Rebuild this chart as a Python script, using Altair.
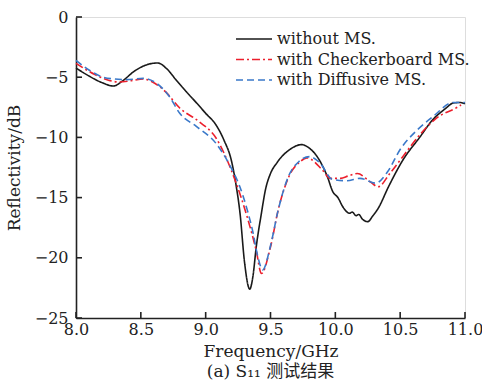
import altair as alt
import pandas as pd

series_names = ["without MS.", "with Checkerboard MS.", "with Diffusive MS."]

f_black = [8.0, 8.1, 8.2, 8.29, 8.36, 8.45, 8.55, 8.63, 8.7, 8.77, 8.85, 8.93, 9.0, 9.08, 9.14,
           9.2, 9.235, 9.265, 9.3, 9.34, 9.365, 9.39, 9.43, 9.46, 9.5, 9.55, 9.65, 9.74, 9.8,
           9.86, 9.94, 9.98, 10.02, 10.06, 10.11, 10.13, 10.16, 10.18, 10.21, 10.25, 10.29,
           10.33, 10.41, 10.52, 10.65, 10.75, 10.85, 10.91, 10.96, 11.0]
v_black = [-4.24, -4.9, -5.45, -5.73, -5.3, -4.5, -3.95, -3.82, -4.3, -5.2, -6.2, -7.14, -8.0,
           -8.97, -10.2, -12.0, -14.0, -16.3, -20.4, -22.6, -21.5, -19.1, -16.3, -14.4, -13.0,
           -12.1, -11.0, -10.6, -10.9, -11.6, -13.3, -14.5, -15.0, -15.8, -16.3, -16.2, -16.5,
           -16.4, -16.8, -17.0, -16.5, -15.9, -14.1, -11.9, -10.0, -8.55, -7.6, -7.14, -7.1, -7.2]

f_red = [8.0, 8.15, 8.25, 8.33, 8.42, 8.52, 8.59, 8.69, 8.8, 8.95, 9.08, 9.15, 9.225, 9.32,
         9.39, 9.43, 9.5, 9.56, 9.64, 9.73, 9.78, 9.9, 9.96, 10.04, 10.1, 10.17, 10.27, 10.33,
         10.42, 10.52, 10.65, 10.78, 10.94, 10.97]
v_red = [-3.85, -4.8, -5.25, -5.4, -5.3, -5.15, -5.4, -6.2, -7.56, -8.7, -10.05, -11.5, -13.5,
         -16.6, -19.4, -21.3, -19.1, -16.0, -13.3, -12.0, -11.7, -12.7, -13.4, -13.4, -13.2,
         -13.0, -13.7, -14.1, -13.0, -11.6, -9.8, -8.4, -7.5, -7.3]

f_blue = [8.0, 8.1, 8.21, 8.3, 8.39, 8.52, 8.62, 8.72, 8.8, 8.93, 9.08, 9.19, 9.26, 9.32,
          9.365, 9.4, 9.44, 9.5, 9.56, 9.64, 9.72, 9.8, 9.88, 9.98, 10.09, 10.19, 10.31, 10.4,
          10.5, 10.63, 10.75, 10.91, 11.0]
v_blue = [-3.6, -4.4, -5.0, -5.15, -5.2, -5.1, -5.5, -6.6, -8.0, -9.1, -10.5, -12.4, -14.0,
          -16.0, -17.9, -19.8, -21.0, -19.0, -16.0, -13.2, -12.0, -11.6, -12.1, -13.5, -13.6,
          -13.4, -13.8, -12.9, -11.0, -9.4, -8.3, -7.1, -7.1]

x_ticks = [8.0, 8.5, 9.0, 9.5, 10.0, 10.5, 11.0]
y_ticks = [0, -5, -10, -15, -20, -25]

colors = ["#1a1a1a", "#ec1f2c", "#3a78c9"]
dashes = [[1, 0], [8, 3, 2, 3], [7, 4]]

rows = []
for name, fs, vs in zip(series_names, [f_black, f_red, f_blue], [v_black, v_red, v_blue]):
    for i, (f, v) in enumerate(zip(fs, vs)):
        rows.append({"series": name, "f": f, "v": v, "order": i})
df = pd.DataFrame(rows)
leg_df = pd.DataFrame({"series": series_names})

W, H = 389, 301
serif = "DejaVu Serif"

xscale = alt.Scale(domain=[8.0, 11.0], nice=False, zero=False)
yscale = alt.Scale(domain=[-25, 0], nice=False, zero=False)
cscale = alt.Scale(domain=series_names, range=colors)
dscale = alt.Scale(domain=series_names, range=dashes)
legy = alt.Scale(type="point", domain=series_names, range=[22, 63], padding=0)

lines = alt.Chart(df).mark_line(strokeWidth=1.6, interpolate="monotone").encode(
    x=alt.X("f:Q", scale=xscale,
            axis=alt.Axis(values=x_ticks, format=".1f", title="Frequency/GHz", tickSize=0,
                          grid=False, domainColor="#222", domainWidth=1.6, labelFlush=False,
                          labelFont=serif, labelFontSize=16, labelColor="#222",
                          labelPadding=3, titleFont=serif, titleFontSize=17,
                          titleFontWeight="normal", titleColor="#222", titlePadding=6)),
    y=alt.Y("v:Q", scale=yscale,
            axis=alt.Axis(values=y_ticks, format="d", title="Reflectivity/dB", tickSize=0,
                          grid=False, domainColor="#222", domainWidth=1.6, labelFlush=False,
                          labelFont=serif, labelFontSize=16, labelColor="#222",
                          labelPadding=8, titleFont=serif, titleFontSize=17,
                          titleFontWeight="normal", titleColor="#222", titlePadding=11)),
    color=alt.Color("series:N", scale=cscale, legend=None),
    strokeDash=alt.StrokeDash("series:N", scale=dscale, legend=None),
    order="order:Q",
)

xt = alt.Chart(pd.DataFrame({"t": x_ticks})).mark_rule(color="#222", strokeWidth=1.6).encode(
    x=alt.X("t:Q", scale=xscale), y=alt.value(H), y2=alt.value(H - 6))
yt = alt.Chart(pd.DataFrame({"t": y_ticks})).mark_rule(color="#222", strokeWidth=1.6).encode(
    y=alt.Y("t:Q", scale=yscale), x=alt.value(0), x2=alt.value(6))

main = alt.layer(lines, xt, yt)

leg_sym = alt.Chart(leg_df).mark_rule(strokeWidth=1.6).encode(
    y=alt.Y("series:N", scale=legy, axis=None),
    x=alt.value(160), x2=alt.value(196),
    color=alt.Color("series:N", scale=cscale, legend=None),
    strokeDash=alt.StrokeDash("series:N", scale=dscale, legend=None),
)
leg_txt = alt.Chart(leg_df).mark_text(align="left", baseline="middle", font=serif,
                                      fontSize=16, color="#222").encode(
    y=alt.Y("series:N", scale=legy, axis=None),
    x=alt.value(201),
    text="series:N",
)
legend = alt.layer(leg_sym, leg_txt)

chart = alt.layer(main, legend).resolve_scale(y="independent").properties(
    width=W, height=H,
    title=alt.TitleParams(text="(a) S₁₁ 测试结果", orient="bottom", anchor="middle",
                          font="DejaVu Serif, Noto Sans CJK SC", fontSize=17,
                          fontWeight="normal", color="#222", offset=5),
    autosize=alt.AutoSizeParams(type="none"),
    padding={"left": 76, "top": 17, "right": 17, "bottom": 74},
).configure_view(stroke=None).configure(background="white")

chart.save("out.html", embed_options={"renderer": "svg", "actions": False})
